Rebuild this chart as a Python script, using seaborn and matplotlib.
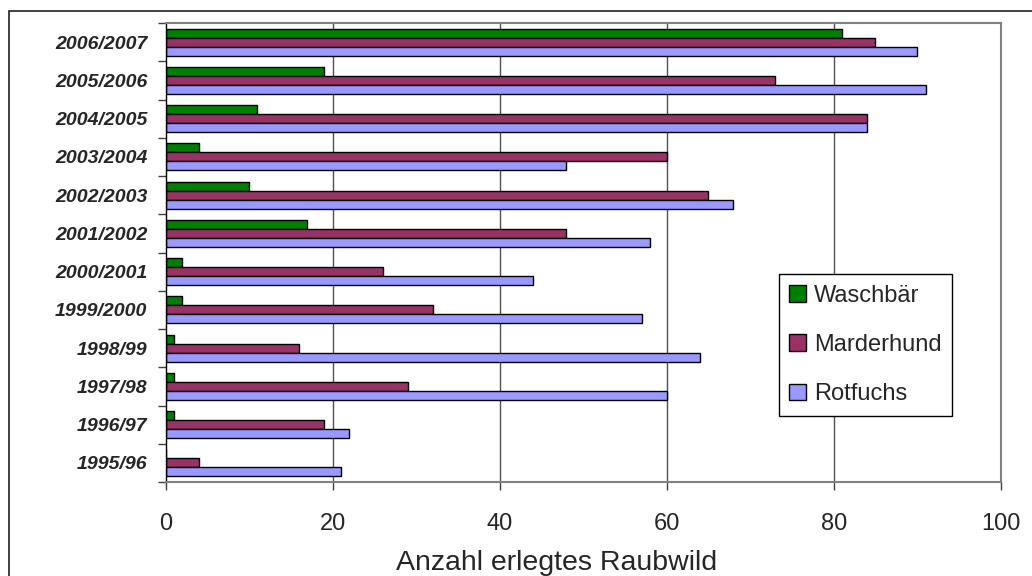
import matplotlib
matplotlib.use("Agg")
import matplotlib.pyplot as plt
from matplotlib.patches import Rectangle
import seaborn as sns
import pandas as pd
import numpy as np

# Data (bottom to top as in the reference)
seasons = ["1995/96", "1996/97", "1997/98", "1998/99", "1999/2000", "2000/2001",
           "2001/2002", "2002/2003", "2003/2004", "2004/2005", "2005/2006", "2006/2007"]
waschbaer = [0, 1, 1, 1, 2, 2, 17, 10, 4, 11, 19, 81]
marderhund = [4, 19, 29, 16, 32, 26, 48, 65, 60, 84, 73, 85]
rotfuchs = [21, 22, 60, 64, 57, 44, 58, 68, 48, 84, 91, 90]
species = ["Waschbär", "Marderhund", "Rotfuchs"]
colors = ["#008000", "#993366", "#9999FF"]
x_ticks = [0, 20, 40, 60, 80, 100]
x_label = "Anzahl erlegtes Raubwild"

df = pd.DataFrame({
    "season": seasons * 3,
    "species": [species[0]] * 12 + [species[1]] * 12 + [species[2]] * 12,
    "value": waschbaer + marderhund + rotfuchs,
})

sns.set_style("white")
plt.rcParams["font.family"] = ["Liberation Sans", "DejaVu Sans"]

fig = plt.figure(figsize=(10.32, 5.76), dpi=100)
W, H = 1032, 576
ax = fig.add_axes([165.5 / W, 1 - 482 / H, (1000.7 - 165.5) / W, (482 - 23) / H])

order = seasons[::-1]
sns.barplot(data=df, y="season", x="value", hue="species", orient="h",
            order=order, hue_order=species, palette=colors, width=0.7,
            edgecolor="black", linewidth=1, saturation=1, ax=ax)

ax.set_xlim(0, 100)
ax.set_ylim(len(seasons) - 0.5, -0.5)
ax.set_xticks(x_ticks)
ax.set_xticklabels([str(t) for t in x_ticks], fontsize=17)
ax.tick_params(axis="x", direction="out", length=6, width=1, color="#404040", pad=16, bottom=True)
ax.set_xlabel("")
ax.set_ylabel("")

ax.set_yticks(np.arange(len(order)))
ax.set_yticklabels(order, fontsize=14, fontweight="bold", fontstyle="italic")
ax.tick_params(axis="y", which="major", length=0, pad=13)
ax.set_yticks(np.arange(len(order) + 1) - 0.5, minor=True)
ax.tick_params(axis="y", which="minor", direction="out", length=6, width=1, color="#404040", left=True)

ax.grid(False)
for xv in x_ticks[1:-1]:
    ax.axvline(xv, color="#505050", linewidth=1, zorder=0)

for side in ["top", "right", "bottom"]:
    ax.spines[side].set_color("#808080")
    ax.spines[side].set_linewidth(1.5)
ax.spines["left"].set_color("black")
ax.spines["left"].set_linewidth(1)

handles, labels = ax.get_legend_handles_labels()
ax.legend(handles, labels, loc="upper left",
          bbox_to_anchor=(778.7 / W, 1 - 274 / H), bbox_transform=fig.transFigure,
          borderaxespad=0,
          frameon=True, fancybox=False, edgecolor="black", framealpha=1,
          fontsize=17, handlelength=0.7, handleheight=0.7, handletextpad=0.35,
          labelspacing=1.16, borderpad=0.45)
leg = ax.get_legend()
leg.get_frame().set_linewidth(1)

fig.text(557 / W, 1 - 570 / H, x_label, fontsize=20.5, ha="center", va="baseline")

fig.patches.append(Rectangle((9 / W, -0.1), 2, 1 - 11 / H + 0.1, transform=fig.transFigure,
                             fill=False, edgecolor="#202020", linewidth=1.2, figure=fig))

fig.savefig("out.png", dpi=100)
